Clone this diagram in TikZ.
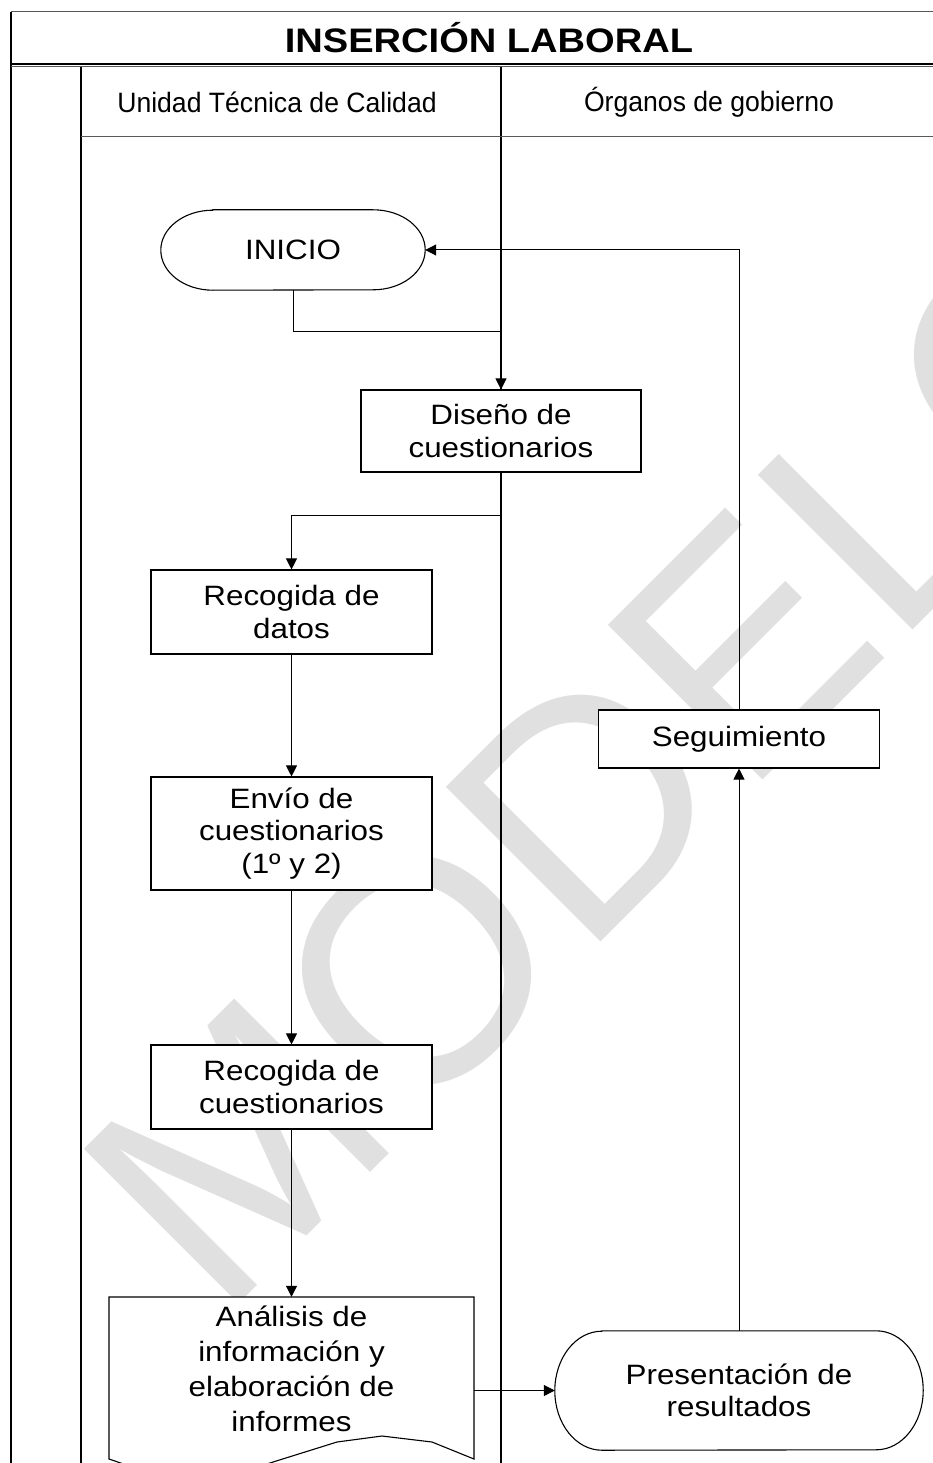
\documentclass[tikz,border=0pt]{standalone}
\usepackage{fontspec}
\setmainfont{Liberation Sans}[FakeStretch=1.12]
\newfontfamily\plainsans{Liberation Sans}
\newfontfamily\lanefont{Liberation Sans}[FakeStretch=0.95]
\usetikzlibrary{arrows.meta,positioning,calc}
\newcommand{\boxfont}{\fontsize{28}{32.5}\selectfont}
\newcommand{\docfont}{\fontsize{28}{35}\selectfont}
\newcommand{\termoutline}[3]{%
  \draw[boxline] ([xshift=#2]#1.north west) -- ([xshift=-#2]#1.north east)
    arc[start angle=90, end angle=-90, x radius=#2, y radius=#3]
    -- ([xshift=#2]#1.south west)
    arc[start angle=270, end angle=90, x radius=#2, y radius=#3] -- cycle;}
\tikzset{
  laneline/.style={line width=1.1pt},
  greyline/.style={line width=1pt, black!65},
  boxline/.style={line width=1.1pt},
  proc/.style={draw, boxline, fill=white, minimum width=281pt, align=center,
    inner sep=0pt, font=\boxfont},
  term/.style={align=center, inner sep=0pt, font=\boxfont},
  docnode/.style={align=center, inner sep=0pt, minimum width=365pt,
    minimum height=144pt, font=\docfont},
  lanehead/.style={font=\lanefont\fontsize{28}{32}\selectfont},
  headtitle/.style={font=\bfseries\fontsize{34}{38}\selectfont},
  wmark/.style={font=\plainsans\fontsize{318}{318}\selectfont, text=black!12,
    inner sep=0pt},
  conn/.style={line width=1pt, -{Triangle[length=11pt,width=11pt]}},
}

\begin{document}
\begin{tikzpicture}[x=1pt, y=-1pt]
  \useasboundingbox (0,0) rectangle (933,1463);
  \clip (0,0) rectangle (933,1463);

  % watermark
  \node[wmark, rotate=45, anchor=base west] (wm) at (220,1323) {MODELO};

  % frame and lanes
  \draw[greyline] (11,12) -- (933,12);
  \draw[laneline] (11,1463) -- (11,12);
  \draw[laneline] (11,64) -- (933,64);
  \draw[greyline] (11,67) -- (933,67);
  \draw[laneline] (81,67) -- (81,1463);
  \draw[laneline] (501,67) -- (501,1463);
  \draw[greyline] (81,137) -- (933,137);

  \node[headtitle] (tit) at (489,38) {INSERCIÓN LABORAL};
  \node[lanehead] (utc) at (277,102) {Unidad Técnica de Calidad};
  \node[lanehead] (org) at (709,102) {Órganos de gobierno};

  % steps
  \node[term, minimum width=264pt, minimum height=80pt] (ini) at (293,250) {INICIO};
  \termoutline{ini}{52pt}{40pt}
  \node[proc, minimum width=280pt, minimum height=82pt] (dis) at (501,431) {Diseño de\\cuestionarios};
  \node[proc, minimum height=84pt] (rdat) at (291.5,612) {Recogida de\\datos};
  \node[proc, minimum height=113pt] (env) at (291.5,833.5) {Envío de\\cuestionarios\\(1º y 2)};
  \node[proc, minimum height=84pt] (rcue) at (291.5,1087) {Recogida de\\cuestionarios};
  \node[proc, minimum height=58pt] (seg) at (739,739) {Seguimiento};
  \node[term, minimum width=368pt, minimum height=119pt] (pres) at (739,1390.5) {Presentación de\\resultados};
  \termoutline{pres}{47pt}{59.5pt}

  % document shape
  \filldraw[boxline, fill=white] (109,1297) -- (474,1297) -- (474,1459)
    -- (432,1442) -- (382,1436) -- (337,1442) -- (273,1462) -- (230,1476)
    -- (190,1480) -- (150,1473) -- (109,1459) -- cycle;
  \node[docnode] (ana) at (291.5,1369) {Análisis de\\información y\\elaboración de\\informes};

  % connectors
  \draw[conn] (ini.south) -- ++(0,41) -| (dis.north);
  \draw[conn] (dis.south) -- ++(0,43) -| (rdat.north);
  \draw[conn] (rdat) -- (env);
  \draw[conn] (env) -- (rcue);
  \draw[conn] (rcue) -- (ana);
  \draw[conn] (ana.east |- pres) -- (pres);
  \draw[conn] (pres) -- (seg);
  \draw[conn] (seg) |- (ini);
\end{tikzpicture}
\end{document}
